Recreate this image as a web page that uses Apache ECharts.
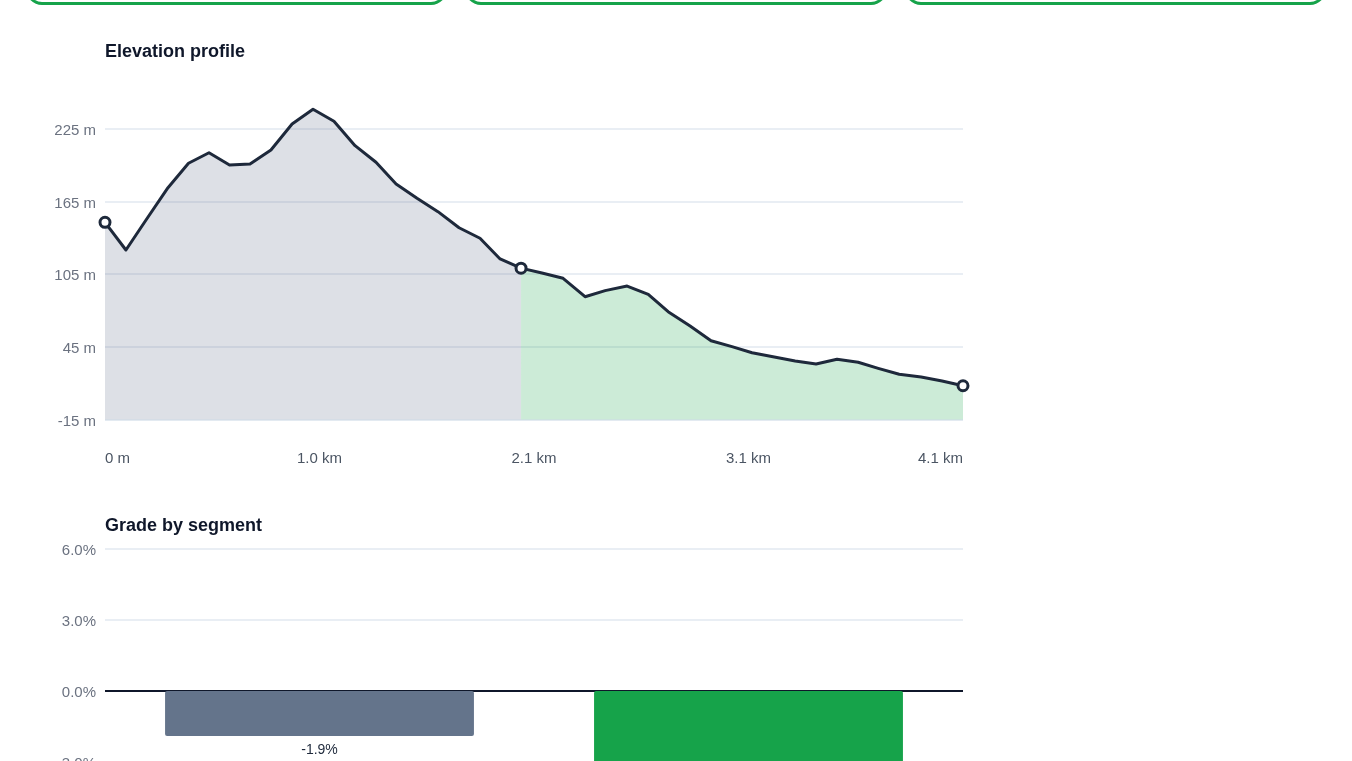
<!DOCTYPE html>
<html>
<head>
<meta charset="utf-8">
<title>Elevation profile</title>
<script src="https://cdn.jsdelivr.net/npm/echarts@6/dist/echarts.min.js"></script>
<style>
  html, body { margin: 0; padding: 0; background: #fff; overflow: hidden; height: 761px; }
  #main { position: absolute; left: 0; top: 0; width: 1352px; height: 900px; }
  .card { position: absolute; top: -60px; height: 59px; box-sizing: content-box; border: 3px solid #16a34a; border-radius: 16px; background: #fff; }
</style>
</head>
<body>
<div class="card" style="left:26px;width:415px"></div>
<div class="card" style="left:465px;width:416px"></div>
<div class="card" style="left:905px;width:415px"></div>
<div id="main"></div>
<script>
// distance along the route (km) and elevation (m)
var distance = [0, 0.1, 0.196, 0.301, 0.399, 0.497, 0.595, 0.693, 0.793, 0.894, 0.994, 1.094, 1.195, 1.295,
    1.391, 1.491, 1.591, 1.692, 1.792, 1.888, 1.988, 2.088, 2.189, 2.294, 2.39, 2.495, 2.596, 2.691, 2.796,
    2.896, 2.996, 3.092, 3.192, 3.298, 3.398, 3.498, 3.599, 3.695, 3.795, 3.9, 4.0, 4.1];
var elevation = [147.9, 125, 149.8, 176.5, 196.7, 205.4, 195.2, 196.1, 207.6, 229.1, 241.3, 231.4, 211.2, 197.5,
    179.5, 167.7, 156.7, 143.4, 134.7, 117.6, 110, 106, 101.6, 86.4, 91.4, 95.2, 88.4, 74, 62.2,
    50, 45.1, 40.1, 36.8, 33.3, 30.8, 34.7, 32.2, 27.2, 22.3, 20, 16.7, 12.8];
var splitIndex = 20;
var markerIndexes = [0, 20, 41];
var elevationTicks = [-15, 45, 105, 165, 225];
var distanceTicks = [0, 1.025, 2.05, 3.075, 4.1];
var distanceLabels = ['0 m', '1.0 km', '2.1 km', '3.1 km', '4.1 km'];
var segments = ['Segment 1', 'Segment 2'];
var grades = [-1.9, -4.6];
var gradeColors = ['#64748b', '#16a34a'];

var points = distance.map(function (d, i) { return [d, elevation[i]]; });

var chart = echarts.init(document.getElementById('main'), null, { renderer: 'canvas' });

var font = '"Liberation Sans", Arial, sans-serif';

var option = {
    animation: false,
    textStyle: { fontFamily: font },
    title: [
        { text: 'Elevation profile', left: 105, top: 43, padding: 0,
          textStyle: { fontFamily: font, fontSize: 18, fontWeight: 'bold', color: '#0f172a' } },
        { text: 'Grade by segment', left: 105, top: 517, padding: 0,
          textStyle: { fontFamily: font, fontSize: 18, fontWeight: 'bold', color: '#0f172a' } }
    ],
    grid: [
        { left: 105, top: 129, width: 858, height: 290.4 },
        { left: 105, top: 548.5, width: 858, height: 284.8 }
    ],
    xAxis: [
        {
            type: 'value',
            gridIndex: 0,
            min: 0,
            max: 4.1,
            splitLine: { show: false },
            axisTick: { show: false },
            // keep this line on the floor of the grid, not at 0 m
            axisLine: { show: true, onZero: false, lineStyle: { color: '#e2e8f0', width: 1.5, cap: 'butt' } },
            axisLabel: {
                customValues: distanceTicks,
                margin: 32,
                fontSize: 15,
                color: '#4b5563',
                alignMinLabel: 'left',
                alignMaxLabel: 'right',
                formatter: function (v) {
                    return distanceLabels[distanceTicks.indexOf(v)];
                }
            }
        },
        {
            type: 'category',
            gridIndex: 1,
            data: segments,
            axisTick: { show: false },
            axisLabel: { show: false },
            axisLine: { show: true, onZero: true, lineStyle: { color: '#0f172a', width: 2, cap: 'butt' } }
        }
    ],
    yAxis: [
        {
            type: 'value',
            gridIndex: 0,
            min: -15,
            max: 225,
            axisLine: { show: false },
            axisTick: { show: false, customValues: elevationTicks },
            splitLine: { lineStyle: { color: '#e2e8f0', width: 1.5 } },
            axisLabel: {
                customValues: elevationTicks,
                margin: 9,
                verticalAlign: 'top',
                lineHeight: 4,
                fontSize: 15,
                color: '#6b7280',
                formatter: function (v) { return v + ' m'; }
            }
        },
        {
            type: 'value',
            gridIndex: 1,
            min: -6,
            max: 6,
            interval: 3,
            axisLine: { show: false },
            axisTick: { show: false },
            splitLine: { lineStyle: { color: '#e2e8f0', width: 1.5 } },
            axisLabel: {
                margin: 9,
                verticalAlign: 'top',
                lineHeight: 4,
                fontSize: 15,
                color: '#6b7280',
                formatter: function (v) { return v.toFixed(1) + '%'; }
            }
        }
    ],
    series: [
        {
            name: 'climb area',
            type: 'line',
            data: points.slice(0, splitIndex + 1),
            showSymbol: false,
            clip: false,
            lineStyle: { width: 0 },
            areaStyle: { origin: 'start', color: '#64748b', opacity: 0.22 }
        },
        {
            name: 'descent area',
            type: 'line',
            data: points.slice(splitIndex),
            showSymbol: false,
            clip: false,
            lineStyle: { width: 0 },
            areaStyle: { origin: 'start', color: '#16a34a', opacity: 0.22 }
        },
        {
            name: 'elevation',
            type: 'line',
            data: points,
            showSymbol: false,
            clip: false,
            z: 3,
            lineStyle: { color: '#1e293b', width: 3, join: 'round' }
        },
        {
            name: 'markers',
            type: 'scatter',
            data: markerIndexes.map(function (i) { return points[i]; }),
            clip: false,
            z: 4,
            symbolSize: 10,
            itemStyle: { color: '#fff', borderColor: '#1e293b', borderWidth: 3, opacity: 1 }
        },
        {
            name: 'grade',
            type: 'bar',
            xAxisIndex: 1,
            yAxisIndex: 1,
            barWidth: '72%',
            data: grades.map(function (g, i) {
                return { value: g, itemStyle: { color: gradeColors[i], borderRadius: 2 } };
            }),
            label: {
                show: true,
                position: 'bottom',
                distance: 7,
                fontSize: 14,
                color: '#1e293b',
                formatter: function (p) { return p.value.toFixed(1) + '%'; }
            }
        }
    ]
};

chart.setOption(option);
</script>
</body>
</html>
